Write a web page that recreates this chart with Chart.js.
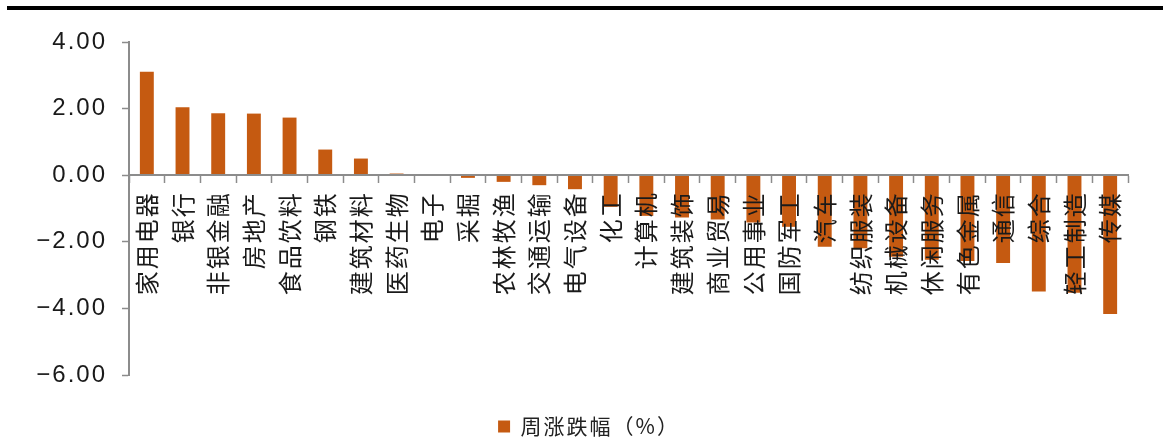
<!DOCTYPE html>
<html>
<head>
<meta charset="utf-8">
<script src="https://cdn.jsdelivr.net/npm/chart.js@4"></script>
<style>
html,body{margin:0;padding:0;background:#fff;overflow:hidden;}
#wrap{position:relative;width:1163px;height:442px;}
#topline{position:absolute;left:7px;right:0;top:6px;height:4px;background:#000;}
#c{position:absolute;left:0;top:0;}
</style>
</head>
<body>
<div id="wrap"><div id="topline"></div><canvas id="c" width="1163" height="442"></canvas></div>
<script>
const categories = ['家用电器','银行','非银金融','房地产','食品饮料','钢铁','建筑材料','医药生物','电子','采掘','农林牧渔','交通运输','电气设备','化工','计算机','建筑装饰','商业贸易','公用事业','国防军工','汽车','纺织服装','机械设备','休闲服务','有色金属','通信','综合','轻工制造','传媒'];
const weeklyChange = [3.11,2.04,1.86,1.85,1.73,0.77,0.50,0.05,0.00,-0.08,-0.20,-0.30,-0.42,-0.95,-1.22,-1.27,-1.33,-1.42,-1.55,-2.15,-2.19,-2.45,-2.54,-2.58,-2.64,-3.49,-3.53,-4.17];
const seriesName = '周涨跌幅（%）';
const yMin = -6, yMax = 4, yStep = 2;

const barColor = '#C55A11';
const axisColor = '#8c8c8c';

const spacing = {
  id: 'spacing',
  beforeUpdate(chart) { chart.ctx.letterSpacing = '2px'; },
  beforeDraw(chart) { chart.ctx.letterSpacing = '2px'; }
};

const legendShift = {
  id: 'legendShift',
  afterLayout(chart) {
    const l = chart.legend;
    if (l) { l.left += 25; l.right += 25; }
  }
};

new Chart(document.getElementById('c'), {
  type: 'bar',
  data: {
    labels: categories,
    datasets: [{
      label: seriesName,
      data: weeklyChange,
      backgroundColor: barColor,
      borderWidth: 0,
      barPercentage: 0.39,
      categoryPercentage: 1.0
    }]
  },
  options: {
    responsive: false,
    animation: false,
    layout: { padding: { left: 0, right: 35, top: 42, bottom: -5 } },
    plugins: {
      tooltip: { enabled: false },
      legend: {
        position: 'bottom',
        labels: {
          boxWidth: 12,
          boxHeight: 12,
          padding: 41,
          color: '#222',
          font: { family: "'Noto Sans CJK SC'", size: 21 }
        }
      }
    },
    scales: {
      x: {
        position: { y: 0 },
        ticks: {
          z: 2,
          autoSkip: false,
          maxRotation: 90,
          minRotation: 90,
          padding: 9,
          color: '#1a1a1a',
          font: { family: "'Noto Sans CJK SC'", size: 24 }
        },
        grid: { drawOnChartArea: false, drawTicks: true, tickLength: 7, tickColor: axisColor, tickWidth: 1.5, offset: true, z: 1 },
        border: { display: true, color: axisColor, width: 2, z: 1 }
      },
      y: {
        min: yMin,
        max: yMax,
        ticks: {
          stepSize: yStep,
          padding: 15,
          color: '#1a1a1a',
          font: { family: "'Liberation Sans', Arial, sans-serif", size: 24 },
          callback: v => (v < 0 ? '\u2212' : '') + Math.abs(v).toFixed(2)
        },
        grid: { drawOnChartArea: false, drawTicks: true, tickLength: 7, tickColor: axisColor, tickWidth: 1.5 },
        border: { display: true, color: axisColor, width: 2 },
        afterFit(s) { s.width = 129; }
      }
    }
  },
  plugins: [spacing, legendShift]
});
</script>
</body>
</html>
